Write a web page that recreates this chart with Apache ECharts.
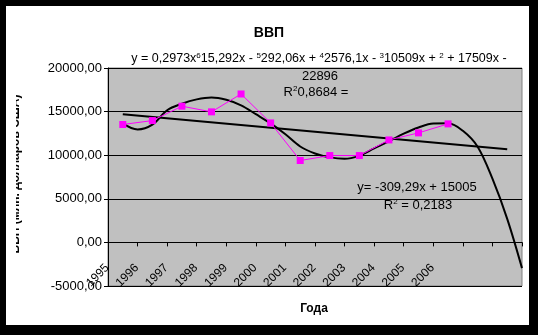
<!DOCTYPE html>
<html>
<head>
<meta charset="utf-8">
<script src="https://cdn.jsdelivr.net/npm/echarts@6/dist/echarts.min.js"></script>
<style>
  html, body { margin: 0; padding: 0; background: #000; }
  #chart { width: 538px; height: 335px; }
</style>
</head>
<body>
<div id="chart"></div>
<script>
// Years shown on the category axis; two trailing slots hold the forecast part of the trends
const years = ['1995', '1996', '1997', '1998', '1999', '2000', '2001', '2002', '2003', '2004', '2005', '2006'];
const slots = years.concat(['', '']);

// ВВП, млн. долларов США
const gdp = [13520, 13970, 15620, 14970, 17020, 13700, 9390, 9960, 9960, 11750, 12560, 13590];

// Polynomial (6th degree) trend: positions in category units and values
const polyX = [0, 0.5, 1, 1.5, 2, 2.5, 3, 3.5, 4, 4.5, 5, 5.5, 6, 6.5, 7, 7.5, 8, 8.5, 9, 9.5, 10, 10.5, 11, 11.5, 12, 12.5, 13, 13.5];
const polyV = [13650, 12950, 13500, 15150, 15900, 16400, 16620, 16350, 15720, 14700, 13650, 12400, 11000, 10200, 9750, 9580, 9950, 10780, 11600, 12470, 13180, 13630, 13650, 12800, 10970, 7300, 2700, -2950];

// Linear trend y = -309,29x + 15005, drawn from x = 1 to x = 14
const linX = [0, 13];
const linV = [14696, 10675];

// Y axis ticks
const yTicks = [-5000, 0, 5000, 10000, 15000, 20000];

const FONT = 'Liberation Sans, Arial, sans-serif';

const chart = echarts.init(document.getElementById('chart'));

const plot = { left: 108, top: 68, right: 16, height: 218 };
const yMin = yTicks[0];
const yMax = yTicks[yTicks.length - 1];
// the category axis is drawn along the zero line: a second grid ends exactly there
const zeroOffset = plot.height * yMax / (yMax - yMin);

const sup = { fontSize: 8, fontFamily: FONT, fill: '#000', padding: [0, 0, 6, 0] };

chart.setOption({
  animation: false,
  backgroundColor: '#000',
  textStyle: { fontFamily: FONT },
  title: {
    text: 'ВВП',
    left: 'center',
    top: 21,
    textStyle: { fontFamily: FONT, fontSize: 14, fontWeight: 'bold', color: '#000' }
  },
  grid: [{
    show: true,
    backgroundColor: '#c0c0c0',
    borderColor: '#808080',
    borderWidth: 1,
    left: plot.left, top: plot.top, right: plot.right, height: plot.height
  }, {
    show: false,
    left: plot.left, top: plot.top, right: plot.right, height: zeroOffset
  }],
  xAxis: [{
    type: 'category',
    gridIndex: 0,
    data: slots,
    boundaryGap: true,
    show: false
  }, {
    type: 'value',
    gridIndex: 0,
    min: -0.5,
    max: 13.5,
    show: false,
    axisLine: { onZero: false }
  }, {
    type: 'category',
    gridIndex: 1,
    data: slots,
    boundaryGap: true,
    position: 'bottom',
    axisLine: { onZero: false, lineStyle: { color: '#000', width: 1 } },
    axisTick: { show: true, interval: 0, length: 4, inside: false, lineStyle: { color: '#000' } },
    axisLabel: {
      interval: 0,
      rotate: 45,
      margin: 8,
      padding: [0, 22, 0, 0],
      fontFamily: FONT,
      fontSize: 12,
      color: '#000'
    },
    splitLine: { show: false }
  }],
  yAxis: [{
    type: 'value',
    gridIndex: 0,
    min: yMin,
    max: yMax,
    interval: 5000,
    axisLine: { show: true, onZero: false, lineStyle: { color: '#000', width: 1 } },
    axisTick: { show: true, length: 4, lineStyle: { color: '#000' } },
    axisLabel: {
      margin: 6,
      fontFamily: FONT,
      fontSize: 13,
      color: '#000',
      formatter: v => v.toFixed(2).replace('.', ',')
    },
    splitLine: { show: true, lineStyle: { color: '#000', width: 1 } }
  }, {
    type: 'value',
    gridIndex: 1,
    min: 0,
    max: 1,
    show: false,
    axisLine: { onZero: false }
  }],
  series: [{
    name: 'ВВП',
    type: 'line',
    data: gdp,
    symbol: 'rect',
    symbolSize: 7,
    lineStyle: { color: '#ff00ff', width: 1 },
    itemStyle: { color: '#ff00ff' },
    z: 3
  }, {
    name: 'Полиномиальный тренд',
    type: 'line',
    xAxisIndex: 1,
    data: polyX.map((x, i) => [x, polyV[i]]),
    smooth: 0.35,
    showSymbol: false,
    lineStyle: { color: '#000', width: 2 },
    z: 2
  }, {
    name: 'Линейный тренд',
    type: 'line',
    xAxisIndex: 1,
    data: linX.map((x, i) => [x, linV[i]]),
    showSymbol: false,
    lineStyle: { color: '#000', width: 2 },
    z: 2
  }],
  graphic: [
    { type: 'rect', z: -100, silent: true, shape: { x: 6, y: 6, width: 523, height: 319 }, style: { fill: '#fff' } },
    {
      type: 'text', silent: true, z: 50, x: 22, y: 174, rotation: Math.PI / 2,
      style: { text: 'ВВП (млн. долларов США)', fontFamily: FONT, fontSize: 12, fontWeight: 'bold', fill: '#000', align: 'center', verticalAlign: 'bottom' }
    },
    { type: 'rect', z: 60, silent: true, shape: { x: 6, y: 90, width: 10, height: 180 }, style: { fill: '#fff' } },
    {
      type: 'text', silent: true, z: 50, x: 319, y: 59,
      style: {
        text: 'y = 0,2973x{s|6}15,292x - {s|5}292,06x + {s|4}2576,1x - {s|3}10509x + {s|2} + 17509x -',
        fontFamily: FONT, fontSize: 12.5, fill: '#000', align: 'center', verticalAlign: 'middle',
        rich: { s: sup }
      }
    },
    {
      type: 'text', silent: true, z: 50, x: 320, y: 76,
      style: { text: '22896', fontFamily: FONT, fontSize: 13, fill: '#000', align: 'center', verticalAlign: 'middle' }
    },
    {
      type: 'text', silent: true, z: 50, x: 316, y: 92,
      style: {
        text: 'R{s|2}0,8684 =', fontFamily: FONT, fontSize: 13, fill: '#000', align: 'center', verticalAlign: 'middle',
        rich: { s: sup }
      }
    },
    {
      type: 'text', silent: true, z: 50, x: 417, y: 187,
      style: { text: 'y= -309,29x + 15005', fontFamily: FONT, fontSize: 13, fill: '#000', align: 'center', verticalAlign: 'middle' }
    },
    {
      type: 'text', silent: true, z: 50, x: 418, y: 205,
      style: {
        text: 'R{s|2} = 0,2183', fontFamily: FONT, fontSize: 13, fill: '#000', align: 'center', verticalAlign: 'middle',
        rich: { s: sup }
      }
    },
    {
      type: 'text', silent: true, z: 50, x: 314, y: 309,
      style: { text: 'Года', fontFamily: FONT, fontSize: 12, fontWeight: 'bold', fill: '#000', align: 'center', verticalAlign: 'middle' }
    }
  ]
});
</script>
</body>
</html>
